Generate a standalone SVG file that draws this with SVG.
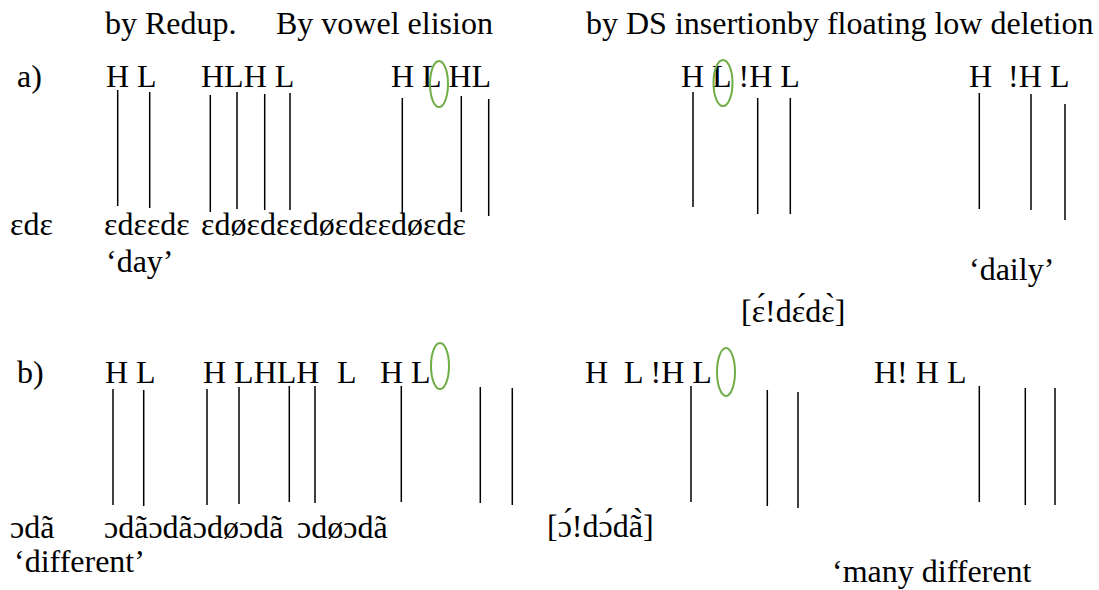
<svg xmlns="http://www.w3.org/2000/svg" width="1099" height="590" viewBox="0 0 1099 590">
<style>
text{font-family:'Liberation Serif','Times New Roman',Tinos,'DejaVu Serif',serif;font-size:32px;fill:#000}
.assoc line{stroke:#000;stroke-width:1.5}
.circ{fill:none;stroke:#70AD47;stroke-width:2}
</style>
<rect width="1099" height="590" fill="#fff"/>
<g id="headers" font-family="Liberation Serif, serif">
<text x="105" y="34">by Redup.</text>
<text x="276" y="34">By vowel elision</text>
<text x="586" y="34">by DS insertionby floating low deletion</text>
</g>
<g id="row-a">
<text x="17" y="87">a)</text>
<g id="a-tones">
<text x="106" y="87">H L</text>
<text x="201" y="87">HLH L</text>
<text x="391" y="87">H L HL</text>
<text x="681" y="87">H L !H L</text>
<text x="969" y="87" xml:space="preserve">H  !H L</text>
</g>
<g id="a-segments">
<text x="10" y="235">ɛdɛ</text>
<text x="104" y="235">ɛdɛɛdɛ</text>
<text x="201" y="235">ɛdøɛdɛɛdøɛdɛɛdøɛdɛ</text>
</g>
<text x="106" y="272">‘day’</text>
<text x="969" y="280">‘daily’</text>
<text x="741" y="322">[ɛ́!dɛ́dɛ̀]</text>
</g>
<g id="row-b">
<text x="17" y="383">b)</text>
<g id="b-tones">
<text x="105" y="383">H L</text>
<text x="203" y="383">H LHLH</text>
<text x="337" y="383">L</text>
<text x="380" y="383">H L</text>
<text x="585" y="383" xml:space="preserve">H  L !H L</text>
<text x="874" y="383">H! H L</text>
</g>
<g id="b-segments">
<text x="10" y="538">ɔdã</text>
<text x="104" y="538">ɔdãɔdãɔdøɔdã</text>
<text x="297" y="538">ɔdøɔdã</text>
</g>
<text x="547" y="537">[ɔ́!dɔ́dã̀]</text>
<text x="14" y="572">‘different’</text>
<text x="832" y="582">‘many different</text>
</g>
<g id="circles">
<ellipse class="circ" cx="439" cy="84" rx="9" ry="23"/>
<ellipse class="circ" cx="723" cy="83" rx="9.5" ry="23"/>
<ellipse class="circ" cx="440" cy="366" rx="9" ry="23"/>
<ellipse class="circ" cx="726" cy="372" rx="9" ry="24"/>
</g>
<g id="connectors" class="assoc">
<line x1="117.7" y1="90" x2="117.7" y2="206"/>
<line x1="149.7" y1="92" x2="149.7" y2="208"/>
<line x1="210.3" y1="95" x2="210.3" y2="212"/>
<line x1="237" y1="92" x2="237" y2="209"/>
<line x1="264.7" y1="94" x2="264.7" y2="210"/>
<line x1="290" y1="93" x2="290" y2="210"/>
<line x1="402.3" y1="98" x2="402.3" y2="214"/>
<line x1="461.3" y1="96" x2="461.3" y2="212"/>
<line x1="488.7" y1="99" x2="488.7" y2="216"/>
<line x1="693" y1="92" x2="693" y2="207"/>
<line x1="757.7" y1="98" x2="757.7" y2="214"/>
<line x1="790.3" y1="98" x2="790.3" y2="214"/>
<line x1="979.3" y1="93" x2="979.3" y2="209"/>
<line x1="1031" y1="94" x2="1031" y2="210"/>
<line x1="1065" y1="104" x2="1065" y2="220"/>
<line x1="113" y1="389" x2="113" y2="505"/>
<line x1="143.7" y1="390" x2="143.7" y2="506"/>
<line x1="207" y1="389" x2="207" y2="505"/>
<line x1="239" y1="387" x2="239" y2="504"/>
<line x1="289.3" y1="386" x2="289.3" y2="502"/>
<line x1="315" y1="386" x2="315" y2="503"/>
<line x1="401.3" y1="386" x2="401.3" y2="502"/>
<line x1="480.3" y1="387" x2="480.3" y2="503"/>
<line x1="512.3" y1="388" x2="512.3" y2="505"/>
<line x1="691" y1="386" x2="691" y2="502"/>
<line x1="767.3" y1="390" x2="767.3" y2="506"/>
<line x1="798" y1="392" x2="798" y2="508"/>
<line x1="979.3" y1="386" x2="979.3" y2="502"/>
<line x1="1025.3" y1="388" x2="1025.3" y2="505"/>
<line x1="1055" y1="388" x2="1055" y2="505"/>
</g>
</svg>
